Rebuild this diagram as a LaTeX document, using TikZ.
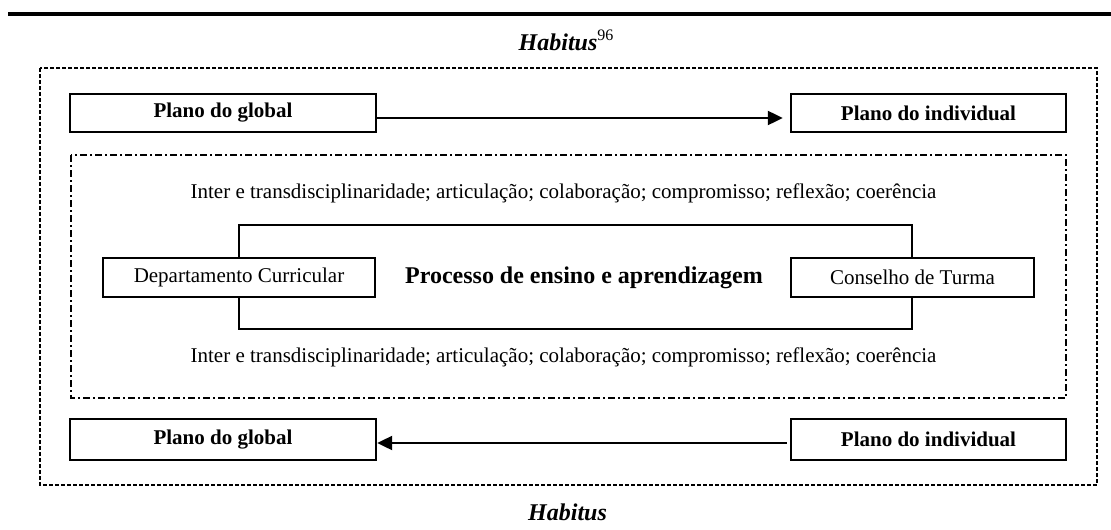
\documentclass[tikz,border=0pt]{standalone}
\usepackage{fontspec}
\setmainfont{Liberation Serif}
\usetikzlibrary{arrows.meta}
\begin{document}
\begin{tikzpicture}[x=1pt,y=-1pt,
  txt/.style={font=\fontsize{21}{25}\selectfont, inner sep=0pt},
  planbox/.style={draw, line width=2.4pt, fill=white, inner sep=0pt,
    font=\fontsize{21}{25}\selectfont\bfseries},
  orgbox/.style={draw, line width=2.2pt, fill=white, inner sep=0pt,
    font=\fontsize{21}{25}\selectfont},
  flow/.style={line width=2.2pt, -{Triangle[length=15pt,width=14pt]}},
  outerframe/.style={line width=1.8pt, dash pattern=on 4pt off 2pt},
  innerframe/.style={line width=1.8pt, dash pattern=on 7pt off 3pt on 2pt off 3pt},
  habitus/.style={font=\fontsize{24}{28}\selectfont\bfseries\itshape, inner sep=0pt}]
\useasboundingbox (0,0) rectangle (1111,530);

% heading rule
\draw[line width=4pt] (8,14) -- (1111,14);

% habitus titles
\node[habitus] (habtop) at (566,40) {Habitus\raisebox{10pt}{\fontsize{16}{18}\selectfont\normalfont 96}};
\node[habitus] (habbot) at (567.5,512) {Habitus};

% frames
\draw[outerframe] (40,68) rectangle (1097,485);
\draw[innerframe] (71,155) rectangle (1066,398);

% upper planes
\node[planbox, minimum width=306pt, minimum height=38pt] (g1) at (223,113) {Plano do global};
\node[planbox, minimum width=275pt, minimum height=38pt] (i1) at (928.5,113) {Plano do individual};
\draw[flow, shorten >=7pt] ([yshift=-5pt]g1.east) -- ([yshift=-5pt]i1.west);

% values
\node[txt] (val1) at (563.5,193) {Inter e transdisciplinaridade; articulação; colaboração; compromisso; reflexão; coerência};
\node[txt] (val2) at (563.5,357) {Inter e transdisciplinaridade; articulação; colaboração; compromisso; reflexão; coerência};

% teaching process
\draw[line width=2.2pt] (239,225) rectangle (912,329);
\node[orgbox, minimum width=272pt, minimum height=39pt] (dep) at (239,277.5) {Departamento Curricular};
\node[orgbox, minimum width=243pt, minimum height=39pt] (ct) at (912.5,277.5) {Conselho de Turma};
\node[inner sep=0pt, font=\fontsize{24}{28}\selectfont\bfseries] (proc) at (584,278) {Processo de ensino e aprendizagem};

% lower planes
\node[planbox, minimum width=306pt, minimum height=41pt] (g2) at (223,439.5) {Plano do global};
\node[planbox, minimum width=275pt, minimum height=41pt] (i2) at (928.5,439.5) {Plano do individual};
\draw[flow, shorten <=3pt] ([yshift=-3.5pt]i2.west) -- ([yshift=-3.5pt]g2.east);
\end{tikzpicture}
\end{document}
